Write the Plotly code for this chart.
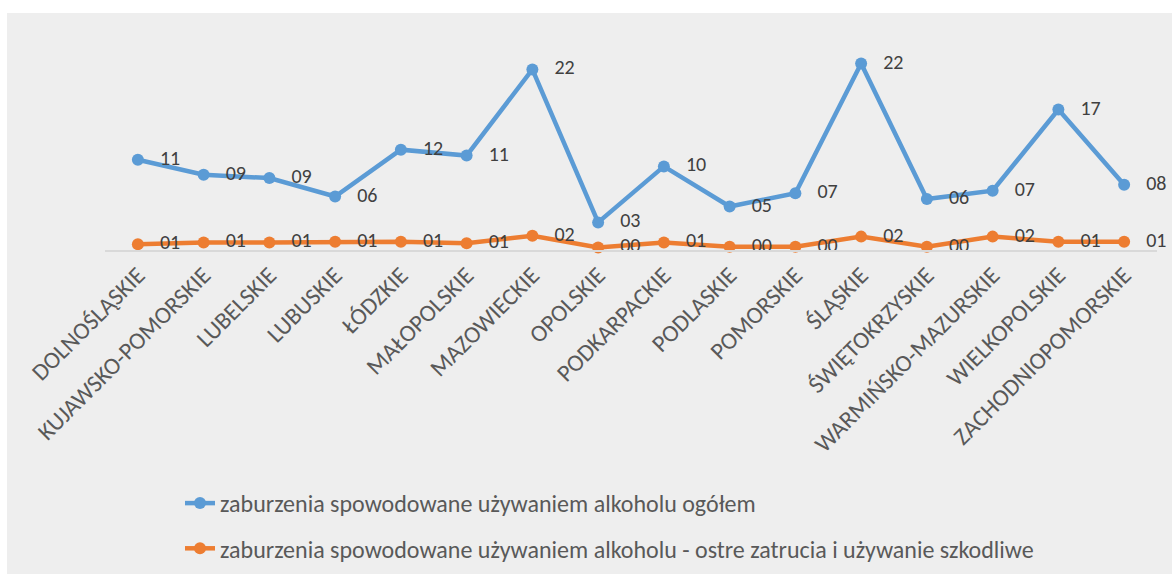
import plotly.graph_objects as go

categories = ["DOLNOŚLĄSKIE", "KUJAWSKO-POMORSKIE", "LUBELSKIE", "LUBUSKIE", "ŁÓDZKIE",
              "MAŁOPOLSKIE", "MAZOWIECKIE", "OPOLSKIE", "PODKARPACKIE", "PODLASKIE",
              "POMORSKIE", "ŚLĄSKIE", "ŚWIĘTOKRZYSKIE", "WARMIŃSKO-MAZURSKIE",
              "WIELKOPOLSKIE", "ZACHODNIOPOMORSKIE"]
total = [10.8, 9.0, 8.6, 6.4, 12.0, 11.3, 21.6, 3.3, 10.0, 5.2, 6.8, 22.3, 6.1, 7.1, 16.8, 7.8]
acute = [0.7, 0.9, 0.9, 1.0, 1.0, 0.8, 1.7, 0.3, 0.9, 0.4, 0.4, 1.6, 0.4, 1.6, 1.0, 1.0]
names = ["zaburzenia spowodowane używaniem alkoholu ogółem",
         "zaburzenia spowodowane używaniem alkoholu - ostre zatrucia i używanie szkodliwe"]
colors = ["#5B9BD5", "#ED7D31"]

W, H = 1173, 574
L, R, T, B = 105, 16, 41, 324
pw, ph = W - L - R, H - T - B

font_family = "Carlito, Lato, 'Open Sans', sans-serif"

fig = go.Figure()
for i, (vals, name) in enumerate(zip([total, acute], names)):
    fig.add_trace(go.Scatter(
        x=categories, y=vals, name=name, mode="lines+markers+text",
        line=dict(color=colors[i], width=4.5),
        marker=dict(color=colors[i], size=12),
        texttemplate="   %{y:02.0f}", textposition="middle right",
        textfont=dict(family=font_family, size=20, color="#404040"),
        legendgroup=str(i), cliponaxis=False,
    ))

def px_x(p):
    return (p - L) / pw

def px_y(p):
    return (H - B - p) / ph

fig.add_shape(type="rect", xref="paper", yref="paper",
              x0=px_x(7), x1=px_x(1172), y0=px_y(574), y1=px_y(13),
              fillcolor="#EEEEEE", line=dict(width=0), layer="below")

fig.update_layout(
    width=W, height=H,
    margin=dict(l=L, r=R, t=T, b=B, autoexpand=False),
    paper_bgcolor="white", plot_bgcolor="#EEEEEE",
    font=dict(family=font_family, color="#595959"),
    xaxis=dict(tickangle=-45, showgrid=False, showline=True, linecolor="#D9D9D9",
               linewidth=1.5, ticks="", tickfont=dict(size=24, color="#595959"),
               zeroline=False, fixedrange=True, automargin=False,
               range=[-0.5, len(categories) - 0.5]),
    yaxis=dict(range=[0, 25], showgrid=False, showticklabels=False, zeroline=False,
               showline=False, fixedrange=True, automargin=False),
    legend=dict(x=px_x(180), y=px_y(481), xanchor="left", yanchor="top",
                orientation="v", traceorder="grouped", tracegroupgap=11,
                font=dict(size=24, color="#595959"), bgcolor="rgba(0,0,0,0)"),
    showlegend=True,
)

fig.write_html(
    "out.html",
    post_script="document.body.style.margin='0';document.body.style.overflow='hidden';",
    config={"displayModeBar": False},
)
